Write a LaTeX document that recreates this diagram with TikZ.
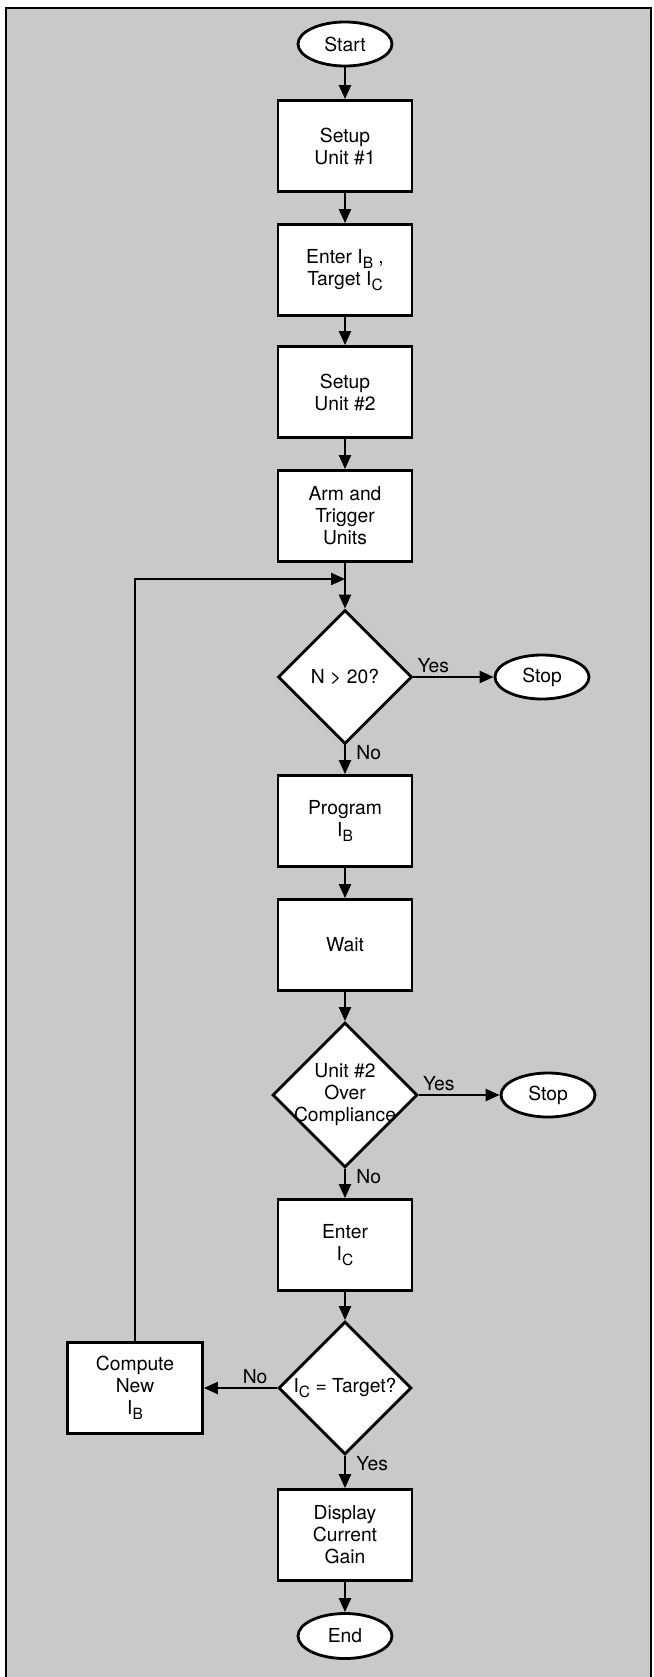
\documentclass[tikz,border=0pt]{standalone}
\usepackage{fontspec}
\setmainfont{TeX Gyre Heros}
\usetikzlibrary{shapes.geometric,arrows.meta}
\newcommand{\lowsub}[1]{\raisebox{-5.5pt}{\fontsize{15.5}{15.5}\selectfont #1}}

\begin{document}
\begin{tikzpicture}[x=1pt,y=-1pt,font=\fontsize{19.3}{22}\selectfont,
         box/.style={draw,line width=2.8pt,fill=white,minimum width=134pt,minimum height=91pt,inner sep=0pt,align=center},
         test/.style={draw,diamond,line width=2.8pt,fill=white,minimum size=134pt,inner sep=0pt,align=center},
         term/.style={draw,ellipse,line width=2.8pt,fill=white,minimum width=94pt,minimum height=44pt,inner sep=0pt},
         arr/.style={line width=2.3pt,-{Triangle[length=14pt,width=12pt]}},
         lbl/.style={inner sep=3pt}]
         \useasboundingbox (0,0) rectangle (653,1677);
         \fill[white] (0,0) rectangle (653,1677);
         \fill[black!21] (6,8) rectangle (651,1677);
         \draw[line width=2.8pt] (6,1677) -- (6,8) -- (651,8) -- (651,1677);

         \node (start) at (345,44) [term]{Start};
         \node (setup1) at (345,146) [box]{Setup\\Unit \#1};
         \node (enter) at (345,270) [box]{Enter I\lowsub{B} ,\\Target I\lowsub{C}};
         \node (setup2) at (345,392) [box]{Setup\\Unit \#2};
         \node (arm) at (345,516) [box]{Arm and\\Trigger\\Units};
         \coordinate (join) at (345,579);
         \node (dec1) at (345,677) [test]{N > 20?};
         \node (stop1) at (542,677) [term]{Stop};
         \node (program) at (345,821) [box]{Program\\I\lowsub{B}};
         \node (wait) at (345,945) [box]{Wait};
         \node (dec2) at (345,1095) [test,minimum size=145pt,inner sep=-10pt]{Unit \#2\\Over\\Compliance};
         \node (stop2) at (548,1095) [term]{Stop};
         \node (enteric) at (345,1245) [box]{Enter\\I\lowsub{C}};
         \node (dec3) at (345,1388) [test,minimum size=133pt,inner sep=-4pt]{I\lowsub{C} = Target?};
         \node (compute) at (135,1388) [box,minimum width=135pt]{Compute\\New\\I\lowsub{B}};
         \node (display) at (345,1535) [box]{Display\\Current\\Gain};
         \node (end) at (345,1636) [term,minimum height=45pt]{End};

         \draw[arr] (start) -- (setup1);
         \draw[arr] (setup1) -- (enter);
         \draw[arr] (enter) -- (setup2);
         \draw[arr] (setup2) -- (arm);
         \draw[arr] (arm) -- (dec1);
         \draw[arr] (dec1) -- node[pos=0,above right,lbl]{Yes} (stop1);
         \draw[arr] (dec1) -- node[near start,right=7pt]{No} (program);
         \draw[arr] (program) -- (wait);
         \draw[arr] (wait) -- (dec2);
         \draw[arr] (dec2) -- node[pos=0,above right,lbl]{Yes} (stop2);
         \draw[arr] (dec2) -- node[near start,right=7pt]{No} (enteric);
         \draw[arr] (enteric) -- (dec3);
         \draw[arr] (dec3) -- node[pos=0.3,above,lbl]{No} (compute);
         \draw[arr] (dec3) -- node[near start,right=7pt]{Yes} (display);
         \draw[arr] (display) -- (end);
         \draw[arr] (compute) |- (join);
\end{tikzpicture}
\end{document}
